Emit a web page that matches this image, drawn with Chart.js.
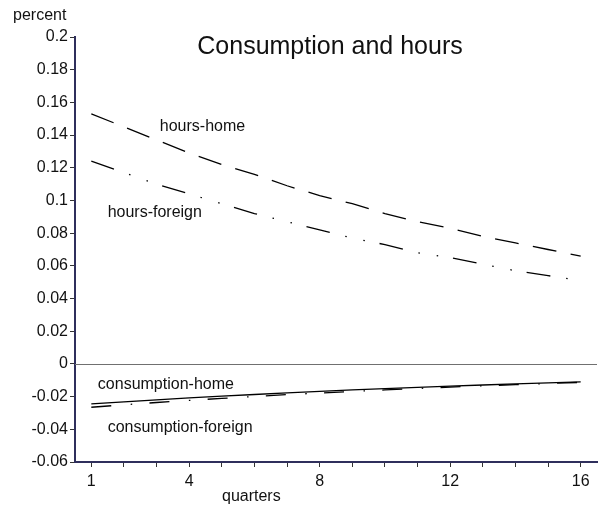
<!DOCTYPE html>
<html>
<head>
<meta charset="utf-8">
<title>Consumption and hours</title>
<script src="https://cdn.jsdelivr.net/npm/chart.js@4.4.1/dist/chart.umd.min.js"></script>
<style>
  body { margin: 0; background: #fff; }
  canvas { display: block; }
</style>
</head>
<body>
<canvas id="myChart" width="609" height="513"></canvas>
<script>
// Impulse responses, quarters 1..16 (percent deviation)
const quarters = [1, 2, 3, 4, 5, 6, 7, 8, 9, 10, 11, 12, 13, 14, 15, 16];
const hoursHome = [0.153, 0.145, 0.137, 0.129, 0.122, 0.116, 0.109, 0.103, 0.098, 0.092, 0.087, 0.083, 0.078, 0.074, 0.070, 0.066];
const hoursForeign = [0.124, 0.117, 0.110, 0.104, 0.098, 0.092, 0.087, 0.082, 0.077, 0.073, 0.068, 0.065, 0.061, 0.057, 0.054, 0.051];
const consHome = [-0.0245, -0.0232, -0.0220, -0.0208, -0.0197, -0.0187, -0.0177, -0.0168, -0.0159, -0.0151, -0.0143, -0.0136, -0.0129, -0.0122, -0.0116, -0.0110];
const consForeign = [-0.0265, -0.0250, -0.0236, -0.0223, -0.0211, -0.0199, -0.0188, -0.0178, -0.0168, -0.0159, -0.0150, -0.0142, -0.0134, -0.0127, -0.0120, -0.0113];

// Axis ticks
const xLabeled = [1, 4, 8, 12, 16];
const yTicks = [-0.06, -0.04, -0.02, 0, 0.02, 0.04, 0.06, 0.08, 0.1, 0.12, 0.14, 0.16, 0.18, 0.2];
const yTickLabels = ['-0.06', '-0.04', '-0.02', '0', '0.02', '0.04', '0.06', '0.08', '0.1', '0.12', '0.14', '0.16', '0.18', '0.2'];

const seriesNames = ['hours-home', 'hours-foreign', 'consumption-home', 'consumption-foreign'];

const FONT = "'Liberation Sans', Arial, Helvetica, sans-serif";
const AXIS_COLOR = '#2f2f5c';

function toPoints(values) {
  return quarters.map((q, i) => ({ x: q, y: values[i] }));
}

// where the series names sit, in data units (quarter, percent)
const nameAnchors = [
  { q: 3.1, v: 0.145 },
  { q: 1.5, v: 0.0925 },
  { q: 1.2, v: -0.0128 },
  { q: 1.5, v: -0.039 }
];

const chartTexts = {
  id: 'chartTexts',
  beforeDatasetsDraw(chart) {
    const ctx = chart.ctx;
    const area = chart.chartArea;
    const y0 = Math.round(chart.scales.y.getPixelForValue(0)) + 0.5;
    ctx.save();
    ctx.strokeStyle = '#707070';
    ctx.lineWidth = 1;
    ctx.beginPath();
    ctx.moveTo(area.left, y0);
    ctx.lineTo(area.right, y0);
    ctx.stroke();
    ctx.restore();
  },
  afterDraw(chart) {
    const ctx = chart.ctx;
    const sx = chart.scales.x, sy = chart.scales.y;
    const area = chart.chartArea;
    ctx.save();
    ctx.fillStyle = '#111';
    ctx.textBaseline = 'middle';

    // title
    ctx.font = '25px ' + FONT;
    ctx.textAlign = 'center';
    ctx.fillText('Consumption and hours', 330, area.top + 10);

    // axis captions
    ctx.font = '16px ' + FONT;
    ctx.textAlign = 'left';
    ctx.fillText('percent', 13, 16);
    ctx.fillText('quarters', 222, 497);

    // series names
    seriesNames.forEach((name, i) => {
      const a = nameAnchors[i];
      ctx.fillText(name, sx.getPixelForValue(a.q), sy.getPixelForValue(a.v));
    });
    ctx.restore();
  }
};

const lineStyle = {
  borderColor: '#000',
  borderWidth: 1.3,
  pointRadius: 0,
  fill: false,
  tension: 0
};

const ctx = document.getElementById('myChart');
new Chart(ctx, {
  type: 'line',
  data: {
    datasets: [
      Object.assign({ label: seriesNames[0], data: toPoints(hoursHome), borderDash: [24, 14.5] }, lineStyle),
      Object.assign({ label: seriesNames[1], data: toPoints(hoursForeign), borderDash: [24, 16, 1.5, 17, 1.5, 15] }, lineStyle),
      Object.assign({ label: seriesNames[2], data: toPoints(consHome) }, lineStyle),
      Object.assign({ label: seriesNames[3], data: toPoints(consForeign), borderDash: [20, 19.5, 1.5, 17.3] }, lineStyle)
    ]
  },
  options: {
    responsive: false,
    animation: false,
    layout: { padding: { top: 37, right: 12, left: 0, bottom: 0 } },
    plugins: {
      legend: { display: false },
      tooltip: { enabled: false },
      title: { display: false }
    },
    scales: {
      x: {
        type: 'linear',
        min: 0.5,
        max: 16.5,
        afterBuildTicks: (scale) => { scale.ticks = quarters.map(q => ({ value: q })); },
        afterFit: (scale) => { scale.height = 51; },
        ticks: {
          autoSkip: false,
          maxRotation: 0,
          padding: 5,
          color: '#111',
          font: { family: FONT, size: 16 },
          callback: (value) => (xLabeled.includes(value) ? String(value) : '')
        },
        grid: { drawOnChartArea: false, drawTicks: true, tickLength: 5, color: '#333' },
        border: { display: true, color: AXIS_COLOR, width: 2 }
      },
      y: {
        type: 'linear',
        min: -0.06,
        max: 0.2,
        afterBuildTicks: (scale) => { scale.ticks = yTicks.map(v => ({ value: v })); },
        afterFit: (scale) => { scale.width = 75; },
        ticks: {
          autoSkip: false,
          padding: 2,
          color: '#111',
          font: { family: FONT, size: 16 },
          callback: (value, index) => yTickLabels[index]
        },
        grid: { drawOnChartArea: false, drawTicks: true, tickLength: 5, color: '#333' },
        border: { display: true, color: AXIS_COLOR, width: 2 }
      }
    }
  },
  plugins: [chartTexts]
});
</script>
</body>
</html>
